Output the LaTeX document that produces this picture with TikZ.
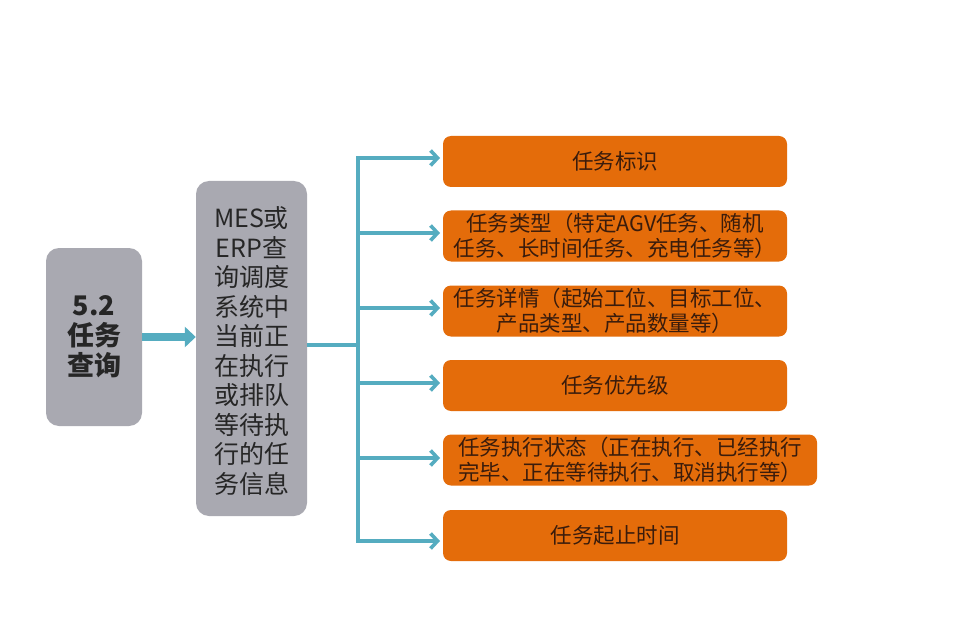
\documentclass[tikz,border=0pt]{standalone}
\usepackage{fontspec}
\setmainfont{Noto Sans CJK SC}
\usetikzlibrary{arrows.meta}
\definecolor{boxgray}{HTML}{A9A9B1}
\definecolor{flow}{HTML}{55ACC0}
\definecolor{orng}{HTML}{E46C0A}
\definecolor{otext}{HTML}{3A1C0C}
\tikzset{
  graybox/.style={fill=boxgray,draw=none,rounded corners=13pt,inner sep=0pt},
  item/.style={fill=orng,draw=none,rounded corners=8pt,minimum height=51pt,inner sep=0pt,
    text=otext,align=center,font=\fontsize{21.5}{25}\selectfont},
  branch/.style={draw=flow,line width=3.6pt,-{Straight Barb[length=7pt,width=15pt,line width=3.6pt]}},
  trunk/.style={draw=flow,line width=3.6pt},
  bigarrow/.style={draw=flow,line width=8pt,-{Triangle[length=11pt,width=20pt]}}
}
\begin{document}
\begin{tikzpicture}[x=1pt,y=-1pt]
\useasboundingbox[fill=white] (0,0) rectangle (960,644);
% left box
\node[graybox,minimum width=96pt,minimum height=178pt,text=black!85,align=center,
  font=\bfseries\fontsize{27}{30}\selectfont] (a) at (94,337) {5.2\\任务\\查询};
% middle box
\node[graybox,minimum width=111pt,minimum height=335pt] (b) at (251.5,348.5) {};
\node[text=black!85,align=center,font=\fontsize{25}{29.5}\selectfont,inner sep=0pt] (bt) at (251.5,351)
  {MES或\\ERP查\\询调度\\系统中\\当前正\\在执行\\或排队\\等待执\\行的任\\务信息};
% orange items
\node[item,minimum width=344pt] (i1) at (615,161.5) {任务标识};
\node[item,minimum width=344pt] (i2) at (615,236) {任务类型（特定AGV任务、随机\\任务、长时间任务、充电任务等）};
\node[item,minimum width=344pt] (i3) at (615,311) {任务详情（起始工位、目标工位、\\产品类型、产品数量等）};
\node[item,minimum width=344pt] (i4) at (615,385.5) {任务优先级};
\node[item,minimum width=374pt] (i5) at (630,460) {任务执行状态（正在执行、已经执行\\完毕、正在等待执行、取消执行等）};
\node[item,minimum width=344pt] (i6) at (615,535.5) {任务起止时间};
% big arrow
\draw[bigarrow] (a.east |- 0,337) -- (b.west |- 0,337);
% connectors
\coordinate (j) at (358,345);
\coordinate (t1) at (358,158);
\coordinate (t6) at (358,541);
\draw[trunk] (b.east |- j) -- (j);
\draw[trunk,line cap=rect] (t1) -- (t6);
\draw[branch] (t1) -- (440,158);
\draw[branch] (358,233) -- (440,233);
\draw[branch] (358,308) -- (440,308);
\draw[branch] (358,383) -- (440,383);
\draw[branch] (358,458) -- (440,458);
\draw[branch] (t6) -- (440,541);
\end{tikzpicture}
\end{document}
